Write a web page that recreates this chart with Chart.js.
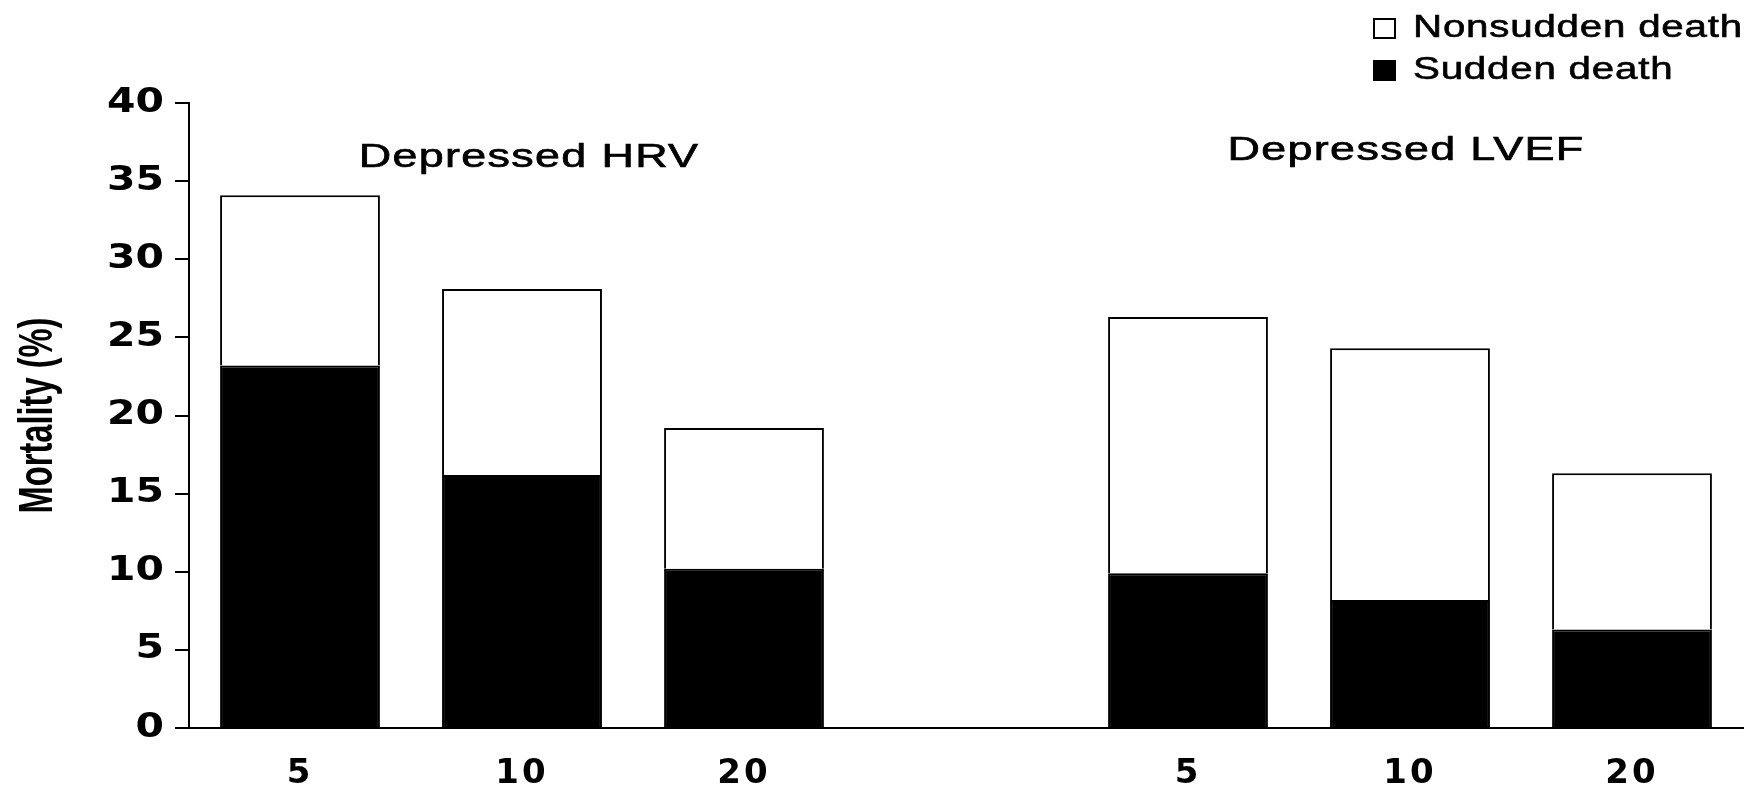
<!DOCTYPE html>
<html><head><meta charset="utf-8">
<script src="https://cdn.jsdelivr.net/npm/chart.js@4.4.1/dist/chart.umd.min.js"></script>
<style>html,body{margin:0;padding:0;background:#fff;overflow:hidden}#wrap{width:1752px;height:785px;position:relative}</style>
</head><body><div id="wrap"><canvas id="c" width="1752" height="785"></canvas></div>
<script>
const categories = ['5', '10', '20', '', '5', '10', '20'];
const suddenDeath = [23.2, 16.2, 10.2, null, 9.9, 8.2, 6.3];
const nonsuddenDeath = [10.9, 11.9, 9.0, null, 16.4, 16.1, 10.0];
const yTicks = [0, 5, 10, 15, 20, 25, 30, 35, 40];
const groupLabels = ['Depressed HRV', 'Depressed LVEF'];
const seriesNames = ['Sudden death', 'Nonsudden death'];
const yTitle = 'Mortality (%)';

const SANS = '"Liberation Sans", Arial, sans-serif';
const DEJAVU = '"DejaVu Sans", sans-serif';

function stretchedText(ctx, text, x, y, sx, align, spacing, stroke) {
  ctx.save();
  ctx.translate(x, y);
  ctx.scale(sx, 1);
  ctx.letterSpacing = spacing + 'px';
  ctx.textAlign = align;
  ctx.textBaseline = 'middle';
  ctx.fillText(text, 0, 0);
  if (stroke) { ctx.lineWidth = stroke; ctx.strokeStyle = ctx.fillStyle; ctx.strokeText(text, 0, 0); }
  ctx.restore();
}

const stretchAxes = {
  id: 'stretchAxes',
  beforeDraw(chart) {
    const s = chart.scales.y;
    if (s._patched) return;
    const origLabels = s.drawLabels;
    s.drawLabels = function (area) {
      const ctx = this.ctx;
      const R = this.right - this.options.grid.tickLength - this.options.ticks.padding;
      ctx.save();
      ctx.translate(R, 0); ctx.scale(1.24, 1); ctx.translate(-R, 0);
      origLabels.call(this, area);
      ctx.restore();
    };
    const origTitle = s.drawTitle;
    s.drawTitle = function () {
      const ctx = this.ctx;
      const cy = (this.top + this.bottom) / 2;
      ctx.save();
      ctx.translate(0, cy); ctx.scale(1, 0.68); ctx.translate(0, -cy);
      origTitle.call(this);
      ctx.restore();
    };
    s._patched = true;
    const sx = chart.scales.x;
    const origX = sx.drawLabels;
    sx.drawLabels = function (area) {
      const ctx = this.ctx;
      ctx.save();
      ctx.letterSpacing = '3px';
      origX.call(this, area);
      ctx.restore();
    };
  }
};

const annotations = {
  id: 'annotations',
  afterDraw(chart) {
    const ctx = chart.ctx;
    const x = chart.scales.x, y = chart.scales.y;
    const groups = [];
    let cur = [];
    categories.forEach((c, i) => { if (c === '') { groups.push(cur); cur = []; } else cur.push(i); });
    groups.push(cur);
    const yVals = [36.5, 36.95];
    const dx = [7, -4];
    ctx.save();
    ctx.fillStyle = '#000';
    ctx.font = '34px ' + SANS;
    groups.forEach((g, k) => {
      const mid = g[Math.floor(g.length / 2)];
      stretchedText(ctx, groupLabels[k], x.getPixelForValue(mid) + dx[k], y.getPixelForValue(yVals[k]), 1.32, 'center', 1, 0.7);
    });
    // legend (top-right), nonsudden first
    const items = chart.data.datasets.slice().reverse();
    ctx.font = '31px ' + SANS;
    items.forEach((ds, i) => {
      const cy = 28 + i * 42;
      ctx.fillStyle = ds.backgroundColor;
      ctx.fillRect(1374, cy - 9, 21, 19);
      ctx.strokeStyle = '#000';
      ctx.lineWidth = 2;
      ctx.strokeRect(1374, cy - 9, 21, 19);
      ctx.fillStyle = '#000';
      stretchedText(ctx, ds.label, 1413, cy, 1.3, 'left', 0.6, 0.6);
    });
    ctx.restore();
  }
};

new Chart(document.getElementById('c'), {
  type: 'bar',
  data: {
    labels: categories,
    datasets: [
      { label: seriesNames[0], data: suddenDeath, backgroundColor: '#000', borderColor: '#000', borderWidth: 2, stack: 's' },
      { label: seriesNames[1], data: nonsuddenDeath, backgroundColor: '#fff', borderColor: '#000', borderWidth: 2, stack: 's' }
    ]
  },
  options: {
    responsive: false,
    devicePixelRatio: 1,
    animation: false,
    layout: { padding: { top: 103, right: 9, left: 0, bottom: 0 } },
    datasets: { bar: { barPercentage: 0.72, categoryPercentage: 1 } },
    plugins: { legend: { display: false }, tooltip: { enabled: false } },
    scales: {
      x: {
        stacked: true,
        grid: { display: false, drawTicks: false },
        border: { display: true, color: '#000', width: 2 },
        ticks: { color: '#000', padding: 26, font: { family: DEJAVU, size: 34, weight: 'bold' }, maxRotation: 0 },
        afterFit(s) { s.height = 57; }
      },
      y: {
        stacked: true,
        min: 0, max: 40,
        afterBuildTicks(s) { s.ticks = yTicks.map(v => ({ value: v })); },
        grid: { drawOnChartArea: false, drawTicks: true, tickLength: 14, color: '#000', lineWidth: 2 },
        border: { display: true, color: '#000', width: 2 },
        ticks: { color: '#000', padding: 11, font: { family: DEJAVU, size: 33, weight: 'bold' } },
        title: { display: true, text: yTitle, color: '#000', padding: { top: 10, bottom: 0 }, font: { family: SANS, size: 48, weight: 'bold' } },
        afterFit(s) { s.width = 189; }
      }
    }
  },
  plugins: [stretchAxes, annotations]
});
</script>
</body></html>
